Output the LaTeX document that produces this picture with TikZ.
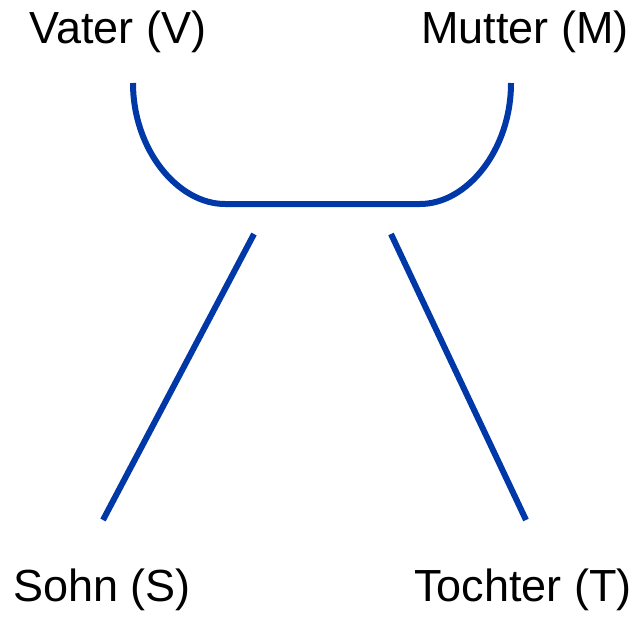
\documentclass[tikz,border=0pt]{standalone}
\usepackage{fontspec}
\setmainfont{Liberation Sans}
\definecolor{famblue}{RGB}{0,56,168}

\begin{document}
\begin{tikzpicture}[x=1pt,y=-1pt,
    person/.style={font=\fontsize{45}{50}\selectfont},
    bond/.style={famblue,line width=6pt}]
  \useasboundingbox (0,0) rectangle (637,616);

  \node[person] (V) at (118,32) {Vater (V)};
  \node[person] (M) at (525,32) {Mutter (M)};
  \node[person] (S) at (102,590) {Sohn (S)};
  \node[person] (T) at (523,590) {Tochter (T)};

  \coordinate (vl) at (133,83);
  \coordinate (ml) at (511,83);
  \coordinate (sl) at (254,234);
  \coordinate (tl) at (391,234);
  \coordinate (se) at (103,520);
  \coordinate (te) at (526,520);

  % parents
  \draw[bond] (vl) .. controls (133,150) and (178,204) .. (225,204)
    -- (420,204) .. controls (467,204) and (511,150) .. (ml);
  % children
  \draw[bond] (sl) -- (se);
  \draw[bond] (tl) -- (te);
\end{tikzpicture}
\end{document}
